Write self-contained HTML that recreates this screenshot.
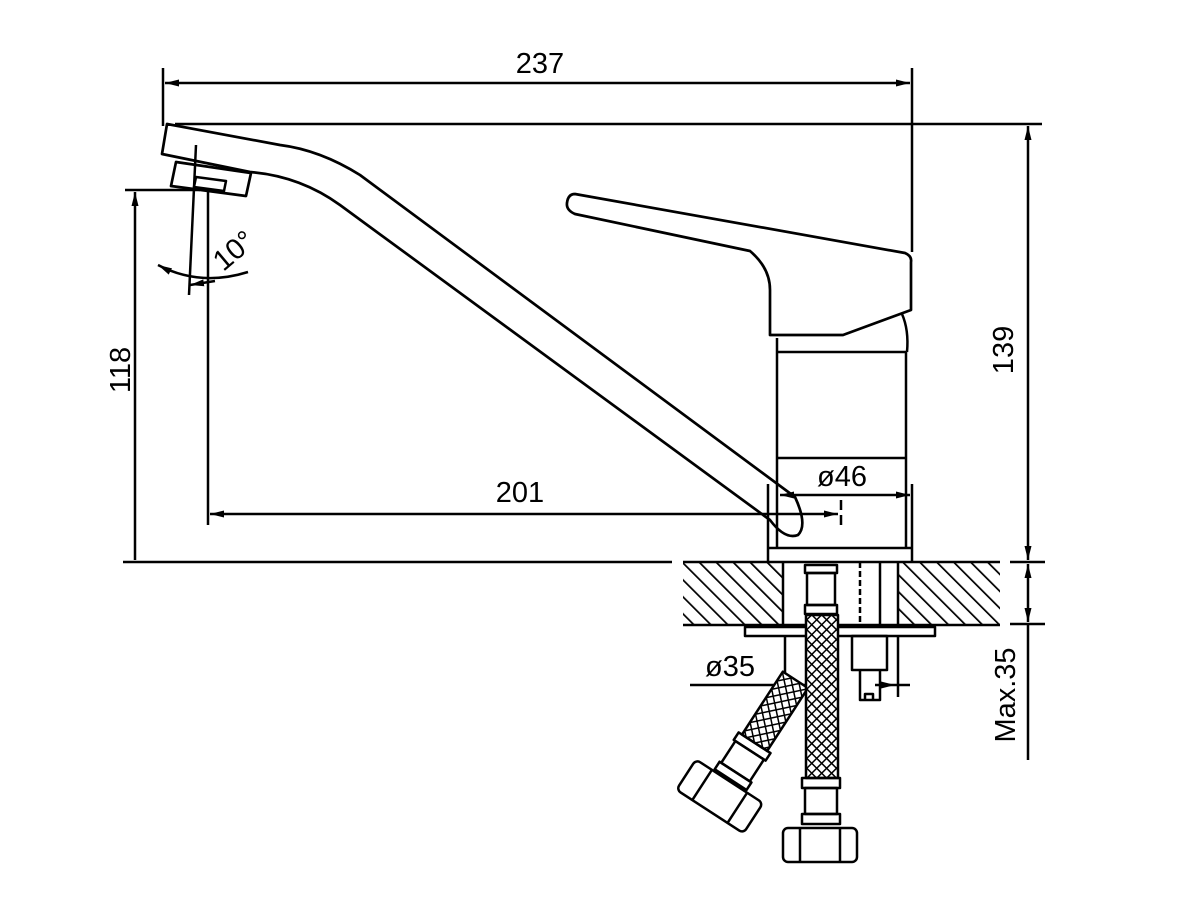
<!DOCTYPE html>
<html><head><meta charset="utf-8"><style>html,body{margin:0;padding:0;background:#fff}svg{display:block}</style></head>
<body>
<svg width="1200" height="900" viewBox="0 0 1200 900" xmlns="http://www.w3.org/2000/svg" font-family="Liberation Sans, sans-serif">
<defs>
<pattern id="hatch" width="12" height="12" patternUnits="userSpaceOnUse" patternTransform="rotate(-45)">
<line x1="0" y1="0" x2="0" y2="12" stroke="#000" stroke-width="3.5"/>
</pattern>
<pattern id="braid" width="7" height="7" patternUnits="userSpaceOnUse" patternTransform="rotate(45)">
<rect width="7" height="7" fill="#fff"/><line x1="0" y1="0" x2="7" y2="0" stroke="#000" stroke-width="3"/><line x1="0" y1="0" x2="0" y2="7" stroke="#000" stroke-width="3"/>
</pattern>
<marker id="a" viewBox="0 0 14 10" refX="14" refY="5" markerWidth="14" markerHeight="10" orient="auto-start-reverse" markerUnits="userSpaceOnUse"><path d="M0,1.5 L14,5 L0,8.5z" fill="#000"/></marker>
</defs>
<g fill="none" stroke="#000" stroke-width="2.5" stroke-linejoin="round">
<!-- 237 -->
<line x1="163" y1="68" x2="163" y2="126"/>
<line x1="912" y1="68" x2="912" y2="252"/>
<line x1="165" y1="83" x2="910" y2="83" marker-start="url(#a)" marker-end="url(#a)"/>
<line x1="175" y1="124" x2="1042" y2="124"/>
<!-- 139 -->
<line x1="1028" y1="126" x2="1028" y2="560" marker-start="url(#a)" marker-end="url(#a)"/>
<line x1="1010" y1="562" x2="1045" y2="562"/>
<line x1="1010" y1="624" x2="1045" y2="624"/>
<line x1="1028" y1="564" x2="1028" y2="622" marker-start="url(#a)" marker-end="url(#a)"/>
<line x1="1028" y1="624" x2="1028" y2="760"/>
<!-- 118 -->
<line x1="125" y1="190" x2="200" y2="190"/>
<line x1="135" y1="192" x2="135" y2="560" marker-start="url(#a)"/>
<line x1="123" y1="562" x2="672" y2="562"/>
<!-- 201 -->
<line x1="208" y1="190" x2="208" y2="525"/>
<line x1="210" y1="514" x2="838" y2="514" marker-start="url(#a)" marker-end="url(#a)"/>
<line x1="841" y1="500" x2="841" y2="528" stroke-dasharray="10,5"/>
<!-- angle -->
<line x1="196" y1="145" x2="189" y2="295"/>
<path d="M158,265 Q200,287 248,272" marker-start="url(#a)"/>
<path d="M215,281 L190,285" marker-end="url(#a)"/>
<!-- spout head -->
<path d="M167,124 L162,154 L250,172 Q300,176 340,205 L770,520 Q785,540 798,535 Q808,525 795,497 L360,175 Q320,150 280,145 Z" stroke-width="2.7"/>
<path d="M176,162 L251,173 L246,196 L171,186 Z" stroke-width="2.7"/>
<path d="M196,177 L226,181 L224,191 L194,187 Z"/>
<!-- handle -->
<path d="M575,194 L905,253 Q912,256 911,262 L911,310 L843,335 L770,335 L770,290 Q770,268 750,251 L575,214 Q566,210 567,203 Q568,194 575,194 Z" stroke-width="2.7"/>
<path d="M902,314 Q909,330 907,352"/>
<!-- body -->
<line x1="777" y1="338" x2="777" y2="547"/>
<line x1="906" y1="352" x2="906" y2="547"/>
<line x1="777" y1="352" x2="906" y2="352"/>
<line x1="777" y1="458" x2="906" y2="458"/>
<line x1="768" y1="484" x2="768" y2="562"/>
<line x1="912" y1="484" x2="912" y2="562"/>
<line x1="768" y1="548" x2="912" y2="548"/>
<line x1="780" y1="495" x2="910" y2="495" marker-start="url(#a)" marker-end="url(#a)"/>
<!-- countertop -->
<rect x="683" y="563" width="100" height="62" fill="url(#hatch)" stroke="none"/>
<rect x="898" y="563" width="102" height="62" fill="url(#hatch)" stroke="none"/>
<line x1="683" y1="562" x2="1000" y2="562"/>
<line x1="683" y1="625" x2="1000" y2="625"/>
<line x1="783" y1="562" x2="783" y2="625"/>
<line x1="898" y1="562" x2="898" y2="625"/>
<rect x="745" y="627" width="190" height="9"/>
<!-- fitting -->
<rect x="805" y="565" width="32" height="8"/>
<rect x="807" y="573" width="28" height="32"/>
<rect x="805" y="605" width="32" height="9"/>
<line x1="860" y1="562" x2="860" y2="627" stroke-dasharray="6,3"/>
<line x1="880" y1="562" x2="880" y2="627"/>
<rect x="852" y="636" width="35" height="34"/>
<path d="M860,670 L860,700 L880,700 L880,670 M865,700 L865,694 L873,694 L873,700"/>
<line x1="785" y1="636" x2="785" y2="697"/>
<line x1="898" y1="636" x2="898" y2="697"/>
<line x1="690" y1="685" x2="805" y2="685" marker-end="url(#a)"/>
<line x1="895" y1="685" x2="910" y2="685"/>
<line x1="875" y1="685" x2="895" y2="685" marker-end="url(#a)"/>
<!-- angled hose -->
<g transform="translate(808,688) rotate(33)">
<rect x="-30" y="0" width="30" height="75" fill="url(#braid)"/>
<rect x="-34" y="75" width="38" height="9"/>
<rect x="-32" y="84" width="34" height="26"/>
<rect x="-34" y="110" width="38" height="9"/>
<rect x="-55" y="121" width="80" height="36" rx="5"/>
<line x1="-36" y1="121" x2="-36" y2="157"/><line x1="6" y1="121" x2="6" y2="157"/>
</g>
<!-- vertical hose -->
<rect x="806" y="615" width="32" height="163" fill="url(#braid)"/>
<rect x="802" y="778" width="38" height="10"/>
<rect x="805" y="788" width="32" height="26"/>
<rect x="802" y="814" width="38" height="10"/>
<rect x="783" y="828" width="74" height="34" rx="5"/>
<line x1="800" y1="828" x2="800" y2="862"/><line x1="840" y1="828" x2="840" y2="862"/>
</g>
<g font-size="29" fill="#000">
<text x="540" y="73" text-anchor="middle">237</text>
<text x="520" y="502" text-anchor="middle">201</text>
<text x="842" y="486" text-anchor="middle">ø46</text>
<text x="730" y="676" text-anchor="middle">ø35</text>
<text transform="translate(130,370) rotate(-90)" text-anchor="middle">118</text>
<text transform="translate(1013,350) rotate(-90)" text-anchor="middle">139</text>
<text transform="translate(1015,695) rotate(-90)" text-anchor="middle">Max.35</text>
<text transform="translate(240,258) rotate(-40)" text-anchor="middle">10°</text>
</g>
</svg>
</body></html>
